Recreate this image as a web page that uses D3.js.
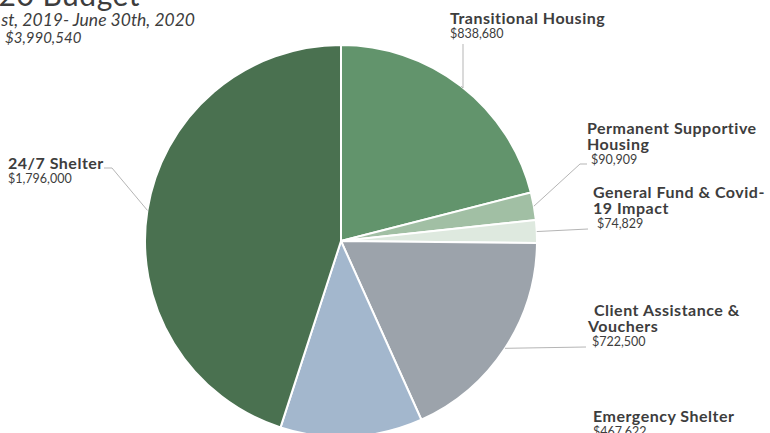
<!DOCTYPE html>
<html>
<head>
<meta charset="utf-8">
<script src="https://cdn.jsdelivr.net/npm/d3@7"></script>
<style>
  body { margin: 0; background: #fff; }
  svg { display: block; }
  text { font-family: Lato, "Noto Sans", sans-serif; fill: #3d3d3d; }
</style>
</head>
<body>
<div id="chart"></div>
<script>
// budget categories, clockwise from 12 o'clock
const categories = [
  "Transitional Housing",
  "Permanent Supportive Housing",
  "General Fund & Covid-19 Impact",
  "Client Assistance & Vouchers",
  "Emergency Shelter",
  "24/7 Shelter"
];
const amounts = [838680, 90909, 74829, 722500, 467622, 1796000];
const labelLines = [
  ["Transitional Housing"],
  ["Permanent Supportive", "Housing"],
  ["General Fund & Covid-", "19 Impact"],
  ["Client Assistance &", "Vouchers"],
  ["Emergency Shelter"],
  ["24/7 Shelter"]
];
const amountLabels = ["$838,680", "$90,909", "$74,829", "$722,500", "$467,622", "$1,796,000"];
const titleLines = ["2019-20 Budget", "July 1st, 2019- June 30th, 2020", "$3,990,540"];

const colors = ["#62946c", "#a1bfa4", "#dee9df", "#9ca3ab", "#a3b7cd", "#4a7150"];

// label placement: text anchor point, dx for the amount line, leader elbow and end
const labelLayout = [
  { x: 450, y: 24, amtDx: 0, line: [[463, 88], [463, 44]] },
  { x: 587, y: 134, amtDx: 4, line: [[580, 164], [587, 164]] },
  { x: 593, y: 198, amtDx: 4, line: [[588, 229]] },
  { x: 594, y: 316, amtDx: -2, line: [[586, 347]] },
  { x: 593, y: 422, amtDx: 0, line: [] },
  { x: 8, y: 169, amtDx: 0, line: [[112, 168], [104, 168]] }
];

const width = 770, height = 433;
const cx = 341, cy = 241, radius = 196;

const svg = d3.select("#chart").append("svg")
  .attr("width", width)
  .attr("height", height);

const pieData = d3.pie().sort(null).value(d => d)(amounts);
const arc = d3.arc().innerRadius(0).outerRadius(radius);

const g = svg.append("g").attr("transform", `translate(${cx},${cy})`);

g.selectAll("path.slice")
  .data(pieData)
  .join("path")
  .attr("class", "slice")
  .attr("d", arc)
  .attr("fill", (d, i) => colors[i])
  .attr("stroke", "#fff")
  .attr("stroke-width", 2);

// leader lines from the mid-angle point on the rim
pieData.forEach((d, i) => {
  const lay = labelLayout[i];
  if (!lay.line.length) return;
  const a = (d.startAngle + d.endAngle) / 2;
  const start = [cx + radius * Math.sin(a), cy - radius * Math.cos(a)];
  svg.append("path")
    .attr("d", d3.line()([start].concat(lay.line)))
    .attr("fill", "none")
    .attr("stroke", "#b5b5b5")
    .attr("stroke-width", 1);
});

// category labels
labelLayout.forEach((lay, i) => {
  const t = svg.append("g");
  labelLines[i].forEach((s, k) => {
    t.append("text")
      .attr("x", lay.x + (i === 3 && k === 1 ? -6 : 0))
      .attr("y", lay.y + k * 16)
      .attr("font-size", 16)
      .attr("font-weight", "bold")
      .attr("letter-spacing", 0.5)
      .text(s);
  });
  t.append("text")
    .attr("x", lay.x + lay.amtDx)
    .attr("y", lay.y + labelLines[i].length * 16 - 2)
    .attr("font-size", 12.5)
    .text(amountLabels[i]);
});

// title block (partly cut off at the top-left)
svg.append("text")
  .attr("x", 140).attr("y", 6)
  .attr("text-anchor", "end")
  .attr("font-size", 30)
  .attr("letter-spacing", 0.5)
  .text(titleLines[0]);
svg.append("text")
  .attr("x", 195).attr("y", 26)
  .attr("text-anchor", "end")
  .attr("font-size", 17.5)
  .attr("font-style", "italic")
  .text(titleLines[1]);
svg.append("text")
  .attr("x", 5).attr("y", 43)
  .attr("font-size", 15)
  .attr("font-style", "italic")
  .text(titleLines[2]);
</script>
</body>
</html>
